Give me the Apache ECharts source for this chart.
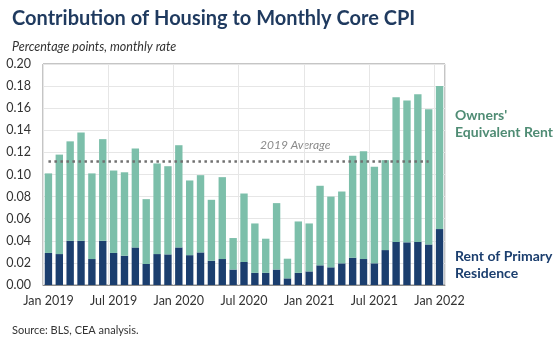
<!DOCTYPE html>
<html>
<head>
<meta charset="utf-8">
<script src="https://cdn.jsdelivr.net/npm/echarts@6/dist/echarts.min.js"></script>
<style>
  html, body { margin: 0; padding: 0; background: #fff; }
  #chart { width: 559px; height: 350px; }
</style>
</head>
<body>
<div id="chart"></div>
<script>
// monthly categories, Jan 2019 - Jan 2022
let months = [
    'Jan 2019', 'Feb 2019', 'Mar 2019', 'Apr 2019', 'May 2019', 'Jun 2019',
    'Jul 2019', 'Aug 2019', 'Sep 2019', 'Oct 2019', 'Nov 2019', 'Dec 2019',
    'Jan 2020', 'Feb 2020', 'Mar 2020', 'Apr 2020', 'May 2020', 'Jun 2020',
    'Jul 2020', 'Aug 2020', 'Sep 2020', 'Oct 2020', 'Nov 2020', 'Dec 2020',
    'Jan 2021', 'Feb 2021', 'Mar 2021', 'Apr 2021', 'May 2021', 'Jun 2021',
    'Jul 2021', 'Aug 2021', 'Sep 2021', 'Oct 2021', 'Nov 2021', 'Dec 2021',
    'Jan 2022'
];

// rent of primary residence (bottom)
let rentPrimary = [
    0.029, 0.028, 0.040, 0.040, 0.0235, 0.040,
    0.029, 0.0265, 0.034, 0.019, 0.028, 0.0277,
    0.034, 0.027, 0.0295, 0.022, 0.0235, 0.014,
    0.0208, 0.011, 0.011, 0.014, 0.006, 0.011,
    0.0123, 0.0178, 0.016, 0.0196, 0.0247, 0.0235,
    0.0196, 0.0316, 0.039, 0.0386, 0.039, 0.0367,
    0.0506
];

// owners' equivalent rent (top)
let ownersRent = [
    0.072, 0.090, 0.090, 0.098, 0.0775, 0.092,
    0.0746, 0.0755, 0.0895, 0.0587, 0.082, 0.0798,
    0.0925, 0.0676, 0.0699, 0.0551, 0.0741, 0.0285,
    0.062, 0.0447, 0.0309, 0.0601, 0.0178, 0.0465,
    0.0434, 0.072, 0.064, 0.065, 0.0923, 0.0975,
    0.0874, 0.0814, 0.131, 0.1284, 0.1336, 0.1223,
    0.1294
];

let avg2019 = 0.112;

let myChart = echarts.init(document.getElementById('chart'));

let navy = '#1b3e6e';
let teal = '#7cbfaa';
let font = 'Lato';

let option = {
    animation: false,
    textStyle: { fontFamily: font },
    title: [
        {
            text: 'Contribution of Housing to Monthly Core CPI',
            left: 7, top: 4,
            textStyle: { fontSize: 20, fontWeight: 'bold', color: '#1f3a5f', fontFamily: font }
        },
        {
            text: 'Percentage points, monthly rate',
            left: 7, top: 35,
            textStyle: { fontSize: 12.5, fontStyle: 'italic', fontWeight: 'normal', color: '#333', fontFamily: font }
        },
        {
            text: 'Source: BLS, CEA analysis.',
            left: 7, top: 320,
            textStyle: { fontSize: 11, fontWeight: 'normal', color: '#333', fontFamily: font }
        }
    ],
    grid: {
        left: 43, right: 114, top: 64, bottom: 65,
        show: true, borderColor: '#8a8a8a', borderWidth: 1
    },
    xAxis: {
        type: 'category',
        data: months,
        axisTick: { show: false },
        axisLine: { lineStyle: { color: '#8a8a8a' } },
        axisLabel: { interval: 5, color: '#333', fontSize: 12.5, margin: 9 },
        splitLine: { show: true, interval: 5, lineStyle: { color: '#e6e6e6' } }
    },
    yAxis: {
        type: 'value',
        min: 0, max: 0.2, interval: 0.02,
        axisLine: { show: false },
        axisTick: { show: false },
        axisLabel: {
            color: '#333', fontSize: 12.5, margin: 12,
            formatter: function (v) { return v.toFixed(2); }
        },
        splitLine: { lineStyle: { color: '#e6e6e6' } }
    },
    series: [
        {
            name: 'Rent of Primary Residence',
            type: 'bar',
            stack: 'housing',
            data: rentPrimary,
            barCategoryGap: '32%',
            itemStyle: { color: navy }
        },
        {
            name: "Owners' Equivalent Rent",
            type: 'bar',
            stack: 'housing',
            data: ownersRent,
            itemStyle: { color: teal },
            markLine: {
                symbol: 'none',
                silent: true,
                label: { show: false },
                lineStyle: { color: '#707070', width: 2.5, type: [2.5, 3.5] },
                data: [[
                    { coord: [months[0], avg2019] },
                    { coord: [months[35], avg2019] }
                ]]
            }
        }
    ],
    graphic: [
        {
            type: 'text', left: 260, top: 139,
            style: { text: '2019 Average', fill: '#8a8a8a', font: 'italic 12px ' + font }
        },
        {
            type: 'text', left: 455, top: 107,
            style: { text: "Owners'\nEquivalent Rent", fill: '#4f8c74', font: 'bold 14px ' + font, lineHeight: 17 }
        },
        {
            type: 'text', left: 455, top: 248,
            style: { text: 'Rent of Primary\nResidence', fill: navy, font: 'bold 14px ' + font, lineHeight: 17 }
        }
    ]
};

myChart.setOption(option);
</script>
</body>
</html>
